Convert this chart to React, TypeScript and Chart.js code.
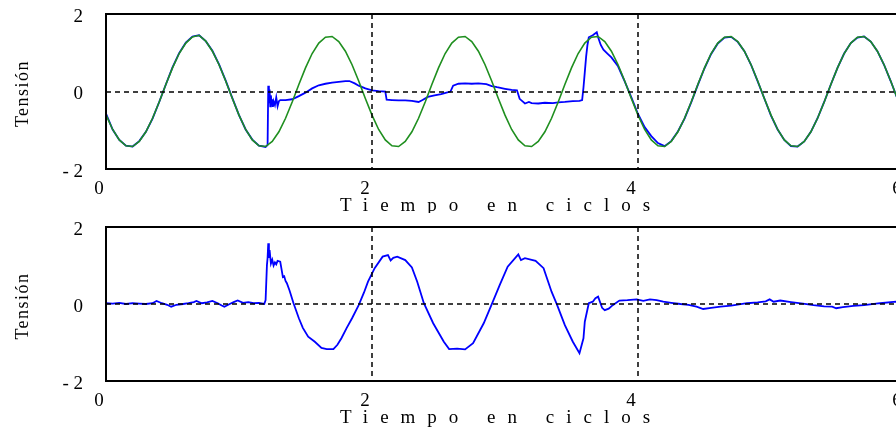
import React, { useEffect, useRef } from 'react';
import { Chart, registerables } from 'chart.js';

Chart.register(...registerables);

// ---------- data ----------
const xTickValues = [0, 2, 4, 6];
const yTickValues = [-2, 0, 2];
const yTickLabels = ['- 2', '0', '2'];
const xTickLabels = ['0', '2', '4', '6'];
const xTitle = 'Tiempo en ciclos';
const yTitle = 'Tensión';
const dashedXValues = [2, 4];
const dashedYValues = [0];

// green reference wave (top plot), sampled every 0.05 cycles from 0 to 6
const greenStep = 0.05;
const greenV = [
  -0.60, -0.98, -1.25, -1.40, -1.42, -1.29, -1.04, -0.69, -0.27, 0.18, 0.61, 0.98, 1.25, 1.41, 1.45, 1.30, 1.04, 0.69, 0.27, -0.18,
  -0.61, -0.98, -1.25, -1.40, -1.42, -1.29, -1.04, -0.69, -0.27, 0.18, 0.61, 0.98, 1.25, 1.40, 1.42, 1.29, 1.04, 0.69, 0.27, -0.18,
  -0.61, -0.98, -1.25, -1.40, -1.42, -1.29, -1.04, -0.69, -0.27, 0.18, 0.61, 0.98, 1.25, 1.40, 1.42, 1.29, 1.04, 0.69, 0.27, -0.18,
  -0.61, -0.98, -1.25, -1.40, -1.42, -1.29, -1.04, -0.69, -0.27, 0.18, 0.61, 0.98, 1.25, 1.40, 1.42, 1.29, 1.04, 0.69, 0.27, -0.18,
  -0.61, -0.98, -1.25, -1.40, -1.42, -1.29, -1.04, -0.69, -0.27, 0.18, 0.61, 0.98, 1.25, 1.40, 1.42, 1.29, 1.04, 0.69, 0.27, -0.18,
  -0.61, -0.98, -1.25, -1.40, -1.42, -1.29, -1.04, -0.69, -0.27, 0.18, 0.61, 0.98, 1.25, 1.40, 1.42, 1.29, 1.04, 0.69, 0.27, -0.18,
  -0.61,
];

// blue measured wave (top plot)
const blueTopT = [
  0, 0.05, 0.1, 0.15, 0.2, 0.25, 0.3, 0.35, 0.4, 0.45, 0.5, 0.55, 0.6, 0.65, 0.7, 0.75, 0.8, 0.85, 0.9, 0.95,
  1.0, 1.05, 1.1, 1.15, 1.2, 1.215, 1.22, 1.225, 1.23, 1.235, 1.24, 1.245, 1.25, 1.255, 1.26, 1.27, 1.28, 1.29, 1.3, 1.31,
  1.35, 1.4, 1.45, 1.5, 1.55, 1.6, 1.65, 1.7, 1.75, 1.8, 1.83, 1.87, 1.9, 1.95, 2.0, 2.05, 2.1, 2.11, 2.15, 2.2,
  2.25, 2.3, 2.35, 2.38, 2.42, 2.47, 2.52, 2.56, 2.59, 2.61, 2.65, 2.7, 2.75, 2.8, 2.86, 2.9, 2.94, 3.0, 3.05, 3.09,
  3.11, 3.13, 3.15, 3.18, 3.2, 3.25, 3.3, 3.36, 3.4, 3.45, 3.51, 3.56, 3.58, 3.59, 3.6, 3.61, 3.62, 3.63, 3.66, 3.69,
  3.7, 3.72, 3.74, 3.77, 3.8, 3.85, 3.9, 3.95, 4.0, 4.05, 4.1, 4.15, 4.2, 4.25, 4.3, 4.35, 4.4, 4.45, 4.5, 4.55,
  4.6, 4.65, 4.7, 4.75, 4.8, 4.85, 4.9, 4.95, 5.0, 5.05, 5.1, 5.15, 5.2, 5.25, 5.3, 5.35, 5.4, 5.45, 5.5, 5.55,
  5.6, 5.65, 5.7, 5.75, 5.8, 5.85, 5.9, 5.95, 6.0,
];
const blueTopV = [
  -0.57, -0.98, -1.25, -1.40, -1.42, -1.28, -1.04, -0.70, -0.27, 0.18, 0.62, 0.99, 1.26, 1.42, 1.45, 1.30, 1.05, 0.70, 0.28, -0.17,
  -0.61, -0.98, -1.24, -1.40, -1.43, -1.38, 0.15, -0.30, 0.05, -0.38, -0.10, -0.35, -0.20, -0.40, -0.25, -0.35, -0.15, -0.38, -0.25, -0.22,
  -0.22, -0.20, -0.12, -0.03, 0.08, 0.16, 0.20, 0.23, 0.25, 0.27, 0.27, 0.21, 0.15, 0.08, 0.03, 0.01, 0.0, -0.21, -0.22, -0.23,
  -0.23, -0.24, -0.27, -0.22, -0.14, -0.10, -0.07, -0.03, 0.0, 0.15, 0.20, 0.21, 0.20, 0.21, 0.19, 0.14, 0.11, 0.07, 0.04, 0.03,
  -0.19, -0.25, -0.31, -0.27, -0.30, -0.31, -0.29, -0.30, -0.28, -0.27, -0.25, -0.24, -0.22, 0.10, 0.50, 0.90, 1.20, 1.40, 1.45, 1.53,
  1.40, 1.20, 1.08, 0.98, 0.88, 0.65, 0.26, -0.15, -0.58, -0.92, -1.15, -1.33, -1.41, -1.28, -1.03, -0.70, -0.28, 0.17, 0.60, 0.97,
  1.24, 1.39, 1.41, 1.28, 1.04, 0.69, 0.26, -0.18, -0.62, -0.98, -1.25, -1.41, -1.42, -1.29, -1.04, -0.69, -0.27, 0.18, 0.61, 0.98,
  1.25, 1.39, 1.42, 1.29, 1.04, 0.69, 0.27, -0.18, -0.61,
];

// blue difference wave (bottom plot)
const blueBotT = [
  0, 0.05, 0.1, 0.15, 0.2, 0.25, 0.3, 0.35, 0.38, 0.42, 0.46, 0.49, 0.53, 0.58, 0.62, 0.66, 0.68, 0.72, 0.76, 0.8,
  0.84, 0.87, 0.89, 0.93, 0.96, 0.99, 1.03, 1.07, 1.11, 1.15, 1.19, 1.2, 1.21, 1.215, 1.22, 1.225, 1.23, 1.24, 1.25, 1.26,
  1.27, 1.28, 1.29, 1.31, 1.32, 1.33, 1.34, 1.35, 1.36, 1.38, 1.41, 1.45, 1.48, 1.52, 1.57, 1.62, 1.66, 1.71, 1.74, 1.77,
  1.81, 1.85, 1.9, 1.94, 1.97, 2.02, 2.08, 2.12, 2.14, 2.16, 2.19, 2.25, 2.3, 2.34, 2.39, 2.46, 2.54, 2.58, 2.64, 2.7,
  2.76, 2.84, 2.9, 2.96, 3.02, 3.1, 3.12, 3.15, 3.23, 3.29, 3.35, 3.39, 3.45, 3.51, 3.56, 3.59, 3.6, 3.63, 3.66, 3.68,
  3.7, 3.73, 3.75, 3.78, 3.81, 3.86, 3.92, 3.99, 4.04, 4.09, 4.14, 4.19, 4.25, 4.32, 4.38, 4.44, 4.49, 4.55, 4.62, 4.7,
  4.76, 4.82, 4.9, 4.96, 4.99, 5.02, 5.07, 5.15, 5.24, 5.32, 5.4, 5.46, 5.49, 5.54, 5.62, 5.7, 5.82, 5.94, 6.0,
];
const blueBotV = [
  0.02, 0.01, 0.03, 0.0, 0.02, 0.01, 0.0, 0.02, 0.08, 0.02, -0.02, -0.07, -0.02, 0.0, 0.02, 0.05, 0.08, 0.02, 0.04, 0.08,
  0.02, -0.04, -0.07, 0.0, 0.05, 0.09, 0.03, 0.05, 0.02, 0.03, 0.0, 0.1, 1.01, 1.2, 1.58, 1.2, 1.4, 1.05, 1.15, 1.0,
  1.08, 1.03, 1.12, 1.1, 0.9, 0.7, 0.72, 0.6, 0.54, 0.35, 0.02, -0.37, -0.62, -0.85, -0.98, -1.14, -1.17, -1.17, -1.06, -0.89,
  -0.62, -0.37, -0.03, 0.3, 0.58, 0.93, 1.23, 1.27, 1.13, 1.2, 1.23, 1.14, 0.95, 0.58, 0.02, -0.5, -0.98, -1.17, -1.16, -1.18,
  -1.02, -0.5, -0.01, 0.49, 0.97, 1.29, 1.14, 1.19, 1.12, 0.93, 0.32, -0.01, -0.55, -0.98, -1.28, -0.89, -0.46, 0.02, 0.06, 0.15,
  0.19, -0.1, -0.16, -0.12, -0.03, 0.09, 0.1, 0.12, 0.08, 0.12, 0.1, 0.06, 0.03, 0.0, -0.02, -0.07, -0.13, -0.1, -0.07, -0.04,
  -0.01, 0.02, 0.04, 0.07, 0.12, 0.06, 0.09, 0.05, 0.01, -0.03, -0.06, -0.07, -0.11, -0.08, -0.05, -0.03, 0.02, 0.06, 0.05,
];

const BLUE = '#0000ff';
const GREEN = '#1f8f1f';
const SERIF = '"Liberation Serif", "Times New Roman", serif';

// ---------- chart helpers ----------
const decoPlugin = {
  id: 'deco',
  afterDatasetsDraw(chart: any) {
    const { ctx, chartArea: a, scales } = chart;
    const xs = scales.x;
    const ys = scales.y;
    ctx.save();
    // dashed reference lines
    ctx.strokeStyle = '#000';
    ctx.lineWidth = 1.5;
    ctx.setLineDash([5, 4]);
    dashedXValues.forEach((v) => {
      const px = Math.round(xs.getPixelForValue(v));
      ctx.beginPath();
      ctx.moveTo(px, a.top);
      ctx.lineTo(px, a.bottom);
      ctx.stroke();
    });
    dashedYValues.forEach((v) => {
      const py = Math.round(ys.getPixelForValue(v));
      ctx.beginPath();
      ctx.moveTo(a.left, py);
      ctx.lineTo(a.right, py);
      ctx.stroke();
    });
    // frame
    ctx.setLineDash([]);
    ctx.lineWidth = 2;
    ctx.strokeRect(a.left, a.top, a.right - a.left, a.bottom - a.top);
    // x title
    ctx.fillStyle = '#000';
    ctx.font = '19px ' + SERIF;
    (ctx as any).letterSpacing = '12px';
    ctx.textAlign = 'left';
    ctx.textBaseline = 'alphabetic';
    const w = ctx.measureText(xTitle).width - 12;
    const cx = (a.left + a.right) / 2 - 10;
    ctx.fillText(xTitle, cx - w / 2, a.bottom + 42);
    // y title
    (ctx as any).letterSpacing = '1.5px';
    ctx.font = '18px ' + SERIF;
    ctx.translate(28, (a.top + a.bottom) / 2 + 2);
    ctx.rotate(-Math.PI / 2);
    ctx.textAlign = 'center';
    ctx.fillText(yTitle, 0, 0);
    ctx.restore();
  },
};

function makeConfig(datasets: any[], xAxisHeight: number) {
  return {
    type: 'line',
    data: { datasets },
    plugins: [decoPlugin],
    options: {
      animation: false,
      responsive: false,
      parsing: false,
      events: [],
      layout: { padding: { top: 14, left: 0, right: 20, bottom: 0 } },
      plugins: { legend: { display: false }, tooltip: { enabled: false }, title: { display: false } },
      elements: { point: { radius: 0 }, line: { tension: 0 } },
      scales: {
        x: {
          type: 'linear',
          min: 0,
          max: 6,
          afterBuildTicks: (s: any) => {
            s.ticks = xTickValues.map((v) => ({ value: v }));
          },
          afterFit: (s: any) => {
            s.height = xAxisHeight;
            s.paddingLeft = 0;
            s.paddingRight = 0;
            s.paddingTop = 0;
            s.paddingBottom = 0;
          },
          grid: { display: false, drawTicks: false },
          border: { display: false },
          ticks: {
            padding: 9,
            labelOffset: -7,
            color: '#000',
            maxRotation: 0,
            autoSkip: false,
            font: { family: SERIF, size: 19 },
            callback: (v: number) => xTickLabels[xTickValues.indexOf(v)] ?? '',
          },
        },
        y: {
          type: 'linear',
          min: -2,
          max: 2,
          afterBuildTicks: (s: any) => {
            s.ticks = yTickValues.map((v) => ({ value: v }));
          },
          afterFit: (s: any) => {
            s.width = 106;
            s.paddingLeft = 0;
            s.paddingRight = 0;
            s.paddingTop = 0;
            s.paddingBottom = 0;
          },
          grid: { display: false, drawTicks: false },
          border: { display: false },
          ticks: {
            padding: 23,
            labelOffset: 3,
            color: '#000',
            autoSkip: false,
            font: { family: SERIF, size: 19 },
            callback: (v: number) => yTickLabels[yTickValues.indexOf(v)] ?? '',
          },
        },
      },
    },
  };
}

function Plot({ datasets, height, xAxisHeight, top }: any) {
  const ref = useRef<HTMLCanvasElement | null>(null);
  useEffect(() => {
    if (!ref.current) return;
    const chart = new Chart(ref.current, makeConfig(datasets, xAxisHeight) as any);
    return () => chart.destroy();
  }, []);
  return (
    <canvas
      ref={ref}
      width={924}
      height={height}
      style={{ position: 'absolute', left: 0, top, width: 924, height }}
    />
  );
}

const topDatasets = [
  {
    data: greenV.map((v, i) => ({ x: i * greenStep, y: v })),
    borderColor: GREEN,
    borderWidth: 1.6,
  },
  {
    data: blueTopV.map((v, i) => ({ x: blueTopT[i], y: v })),
    borderColor: BLUE,
    borderWidth: 1.8,
  },
];

const bottomDatasets = [
  {
    data: blueBotV.map((v, i) => ({ x: blueBotT[i], y: v })),
    borderColor: BLUE,
    borderWidth: 1.8,
  },
];

export default function App() {
  return (
    <div
      style={{
        position: 'fixed',
        left: 0,
        top: 0,
        width: 896,
        height: 429,
        overflow: 'hidden',
        background: '#fff',
      }}
    >
      <Plot datasets={topDatasets} height={213} xAxisHeight={44} top={0} />
      <Plot datasets={bottomDatasets} height={216} xAxisHeight={48} top={213} />
    </div>
  );
}
